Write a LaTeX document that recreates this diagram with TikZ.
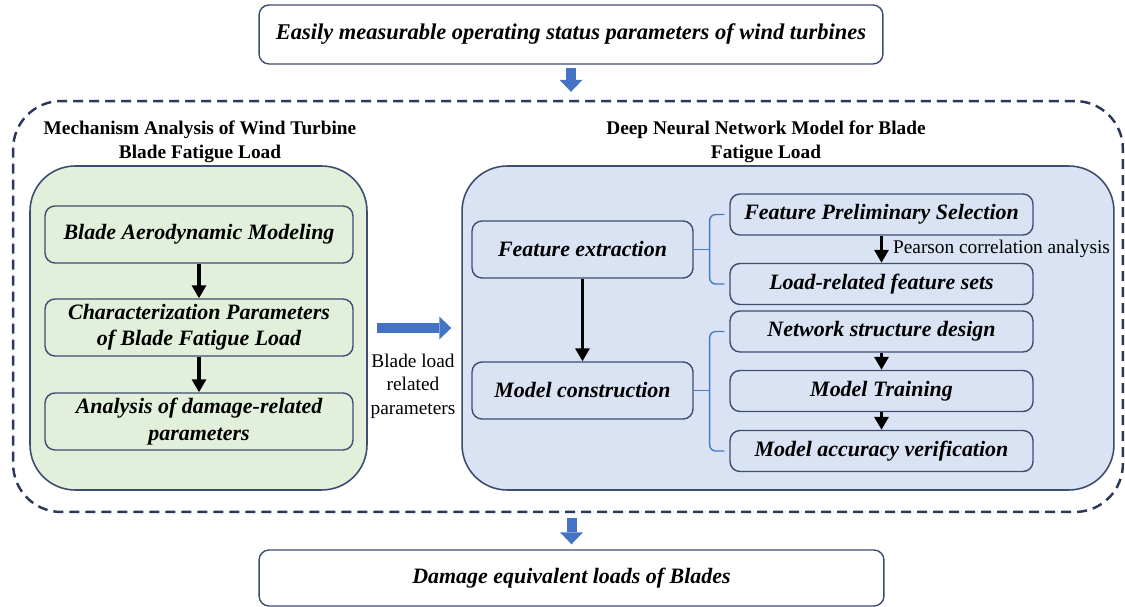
\documentclass[tikz,border=0pt]{standalone}
\usepackage{fontspec}
\setmainfont{Liberation Serif}
\usetikzlibrary{positioning,calc,arrows.meta}
\definecolor{edgeblue}{HTML}{3E4C72}
\definecolor{dashnavy}{HTML}{2A3859}
\definecolor{panelgreen}{HTML}{E2EFDA}
\definecolor{panelblue}{HTML}{DAE3F3}
\definecolor{arrowblue}{HTML}{4472C4}
\definecolor{bracecol}{HTML}{4A78C8}
\tikzset{>={Triangle[length=2.6mm,width=2.8mm]}}
\tikzset{
  box/.style={draw=edgeblue,line width=0.8pt,rounded corners=2mm,inner sep=0pt,
    align=center,font=\fontsize{12.5}{15}\selectfont\bfseries\itshape},
  lbox/.style={box,minimum width=6.16cm,minimum height=1.14cm},
  mbox/.style={box,minimum width=4.42cm,minimum height=1.14cm},
  rbox/.style={box,minimum width=6.06cm,minimum height=0.82cm},
  panel/.style={draw=edgeblue,line width=0.9pt,rounded corners=0.9cm,minimum height=6.48cm},
  frame/.style={draw=dashnavy,line width=1.4pt,dash pattern=on 2mm off 1.2mm,
    rounded corners=0.96cm,minimum width=22.2cm,minimum height=8.22cm},
  paneltitle/.style={align=center,font=\fontsize{11}{13.6}\selectfont\bfseries},
  note/.style={align=center,font=\fontsize{11}{13.3}\selectfont},
  flow/.style={->,line width=1.8pt},
  brace/.style={draw=bracecol,line width=0.8pt,rounded corners=1.2mm},
  blockarrow/.style={draw=arrowblue,line width=2mm,
    -{Triangle[length=2.4mm,width=4.6mm,line width=0pt]}}
}

\begin{document}
\begin{tikzpicture}[x=0.02cm,y=-0.02cm]
\useasboundingbox (0,0) rectangle (1125,607);

% dashed frame round the two panels
\node[frame] (frame) at (568,306.5) {};
\node[panel,fill=panelgreen,minimum width=6.74cm] (mech) at (198.5,328) {};
\node[panel,fill=panelblue,minimum width=13.04cm] (dnn) at (788,328) {};
\node[paneltitle] (mechtitle) at (200,142) {Mechanism Analysis of Wind Turbine\\Blade Fatigue Load};
\node[paneltitle] (dnntitle) at (766,142) {Deep Neural Network Model for Blade\\Fatigue Load};

% input and output
\node[box,minimum width=12.48cm,minimum height=1.18cm,font=\fontsize{12.8}{15}\selectfont\bfseries\itshape]
  (input) at (571,34.5) {Easily measurable operating status parameters of wind turbines};
\node[box,minimum width=12.5cm,minimum height=1.12cm] (output) at (571.5,578) {Damage equivalent loads of Blades};
\draw[blockarrow,shorten <=0.06cm,shorten >=0.16cm] (input) -- (input |- frame.north);
\draw[blockarrow,shorten <=0.1cm,shorten >=0.1cm] (output |- frame.south) -- (output);

% mechanism analysis
\node[lbox] (aero) at (199,234.5) {Blade Aerodynamic Modeling};
\node[lbox] (charac) at (199,327.5) {Characterization Parameters\\of Blade Fatigue Load};
\node[lbox] (damage) at (199,421.5) {Analysis of damage-related\\parameters};
\draw[flow] (aero) -- (charac);
\draw[flow] (charac) -- (damage);

\draw[blockarrow,shorten <=0.18cm,shorten >=0.2cm] (mech) -- (dnn);
\node[note] (loadpar) at (413,386) {Blade load\\related\\parameters};

% network model
\node[mbox] (feat) at (582.5,249.5) {Feature extraction};
\node[mbox] (model) at (582.5,390.5) {Model construction};
\draw[flow] (feat) -- (model);

\node[rbox] (presel) at (881.5,214.5) {Feature Preliminary Selection};
\node[rbox] (featset) at (881.5,284) {Load-related feature sets};
\node[rbox] (struct) at (881.5,331.5) {Network structure design};
\node[rbox] (train) at (881.5,391) {Model Training};
\node[rbox] (verify) at (881.5,451) {Model accuracy verification};
\draw[flow] (presel) -- (featset)
  node[midway,anchor=west,inner sep=0pt,xshift=0.2cm,note] (pearson) {Pearson correlation analysis};
\draw[flow] (struct) -- (train);
\draw[flow] (train) -- (verify);

% braces
\coordinate (fork1) at ([xshift=0.32cm]feat.east);
\coordinate (fork2) at ([xshift=0.32cm]model.east);
\draw[brace] (feat.east) -- (fork1);
\draw[brace] ([xshift=-0.1cm]presel.west) -| (fork1) |- ([xshift=-0.1cm]featset.west);
\draw[brace] (model.east) -- (fork2);
\draw[brace] ([xshift=-0.1cm]struct.west) -| (fork2) |- ([xshift=-0.1cm]verify.west);
\end{tikzpicture}
\end{document}
